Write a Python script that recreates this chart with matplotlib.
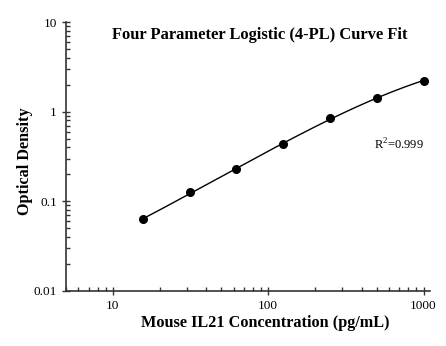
import numpy as np
import matplotlib
matplotlib.use('Agg')
import matplotlib.pyplot as plt
from matplotlib.ticker import LogLocator, FixedLocator, NullFormatter

plt.rcParams['font.family'] = ['Liberation Serif', 'DejaVu Serif']
plt.rcParams['mathtext.fontset'] = 'custom'
plt.rcParams['mathtext.rm'] = 'Liberation Serif'

# standard curve: concentration (pg/mL) and OD
conc = [15.6, 31.25, 62.5, 125, 250, 500, 1000]
od = [0.063, 0.127, 0.227, 0.432, 0.857, 1.41, 2.23]
r2_text = 'R$^2$=0.999'

x = np.array(conc, dtype=float)
y = np.array(od, dtype=float)


def four_pl(c, p):
    a, b, cc, d = p
    return d + (a - d) / (1 + (c / cc) ** b)


# simple Levenberg-Marquardt fit in log space
p = np.array([0.005, 1.0, 800.0, 5.0])
lam = 1e-2
def resid(p):
    return np.log(np.clip(four_pl(x, p), 1e-9, None)) - np.log(y)
for _ in range(500):
    r = resid(p)
    J = np.zeros((len(x), 4))
    for k in range(4):
        dp = np.zeros(4)
        dp[k] = 1e-6 * max(abs(p[k]), 1e-3)
        J[:, k] = (resid(p + dp) - r) / dp[k]
    A = J.T @ J
    step = np.linalg.solve(A + lam * np.diag(np.diag(A)), -J.T @ r)
    pn = p + step
    if pn[2] > 0 and np.sum(resid(pn) ** 2) < np.sum(r ** 2):
        p = pn
        lam *= 0.5
    else:
        lam *= 4

xs = np.logspace(np.log10(x.min()), np.log10(x.max()), 200)
ys = four_pl(xs, p)

fig = plt.figure(figsize=(4.46, 3.46), dpi=100)
ax = fig.add_axes([0.148, 0.159, 0.816, 0.777])
ax.plot(xs, ys, color='black', lw=1)
ax.plot(x, y, 'o', color='black', ms=5.5)

ax.set_xscale('log')
ax.set_yscale('log')
ax.set_xlim(5, 1100)
ax.set_ylim(0.01, 10)

ax.spines['top'].set_visible(False)
ax.spines['right'].set_visible(False)
for s in ['left', 'bottom']:
    ax.spines[s].set_linewidth(1.2)
    ax.spines[s].set_color('#333333')

ax.xaxis.set_major_locator(FixedLocator([10, 100, 1000]))
ax.xaxis.set_minor_locator(LogLocator(base=10, subs=np.arange(2, 10)))
ax.xaxis.set_minor_formatter(NullFormatter())
ax.set_xticklabels(['10', '100', '1000'])
ax.yaxis.set_major_locator(FixedLocator([0.01, 0.1, 1, 10]))
ax.yaxis.set_minor_locator(LogLocator(base=10, subs=np.arange(2, 10)))
ax.yaxis.set_minor_formatter(NullFormatter())
ax.set_yticklabels(['0.01', '0.1', '1', '10'])

ax.tick_params(which='major', direction='inout', length=6, width=1, labelsize=9.5, colors='#333333')
ax.tick_params(which='minor', direction='in', length=3, width=1, colors='#333333')
ax.tick_params(labelcolor='black')

ax.set_xlabel('Mouse IL21 Concentration (pg/mL)', fontsize=11.7, fontweight='bold')
ax.xaxis.set_label_coords(0.547, -0.088, transform=ax.transAxes)
ax.xaxis.label.set_va('top')
ax.set_ylabel('Optical Density', fontsize=11.7, fontweight='bold')
ax.yaxis.set_label_coords(-0.113, 0.481, transform=ax.transAxes)
ax.yaxis.label.set_va('center')
ax.text(0.533, 0.952, 'Four Parameter Logistic (4-PL) Curve Fit', transform=ax.transAxes,
        ha='center', va='center', fontsize=11.9, fontweight='bold')
ax.text(0.983, 0.543, r2_text, transform=ax.transAxes, ha='right', va='center', fontsize=9)

fig.savefig('out.png', dpi=100)
